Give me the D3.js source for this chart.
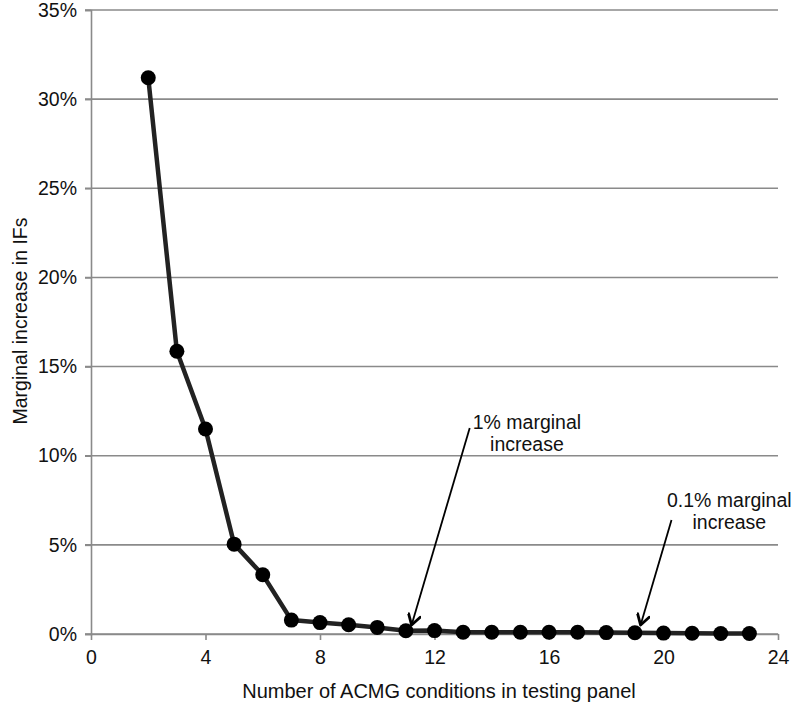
<!DOCTYPE html>
<html>
<head>
<meta charset="utf-8">
<script src="https://cdn.jsdelivr.net/npm/d3@7"></script>
<style>
  body { margin: 0; background: #fff; }
  text { font-family: "Liberation Sans", Arial, sans-serif; fill: #111; }
</style>
</head>
<body>
<div id="chart"></div>
<script>
// number of conditions in panel
var conditions = [2, 3, 4, 5, 6, 7, 8, 9, 10, 11, 12, 13, 14, 15, 16, 17, 18, 19, 20, 21, 22, 23];
// marginal increase in IFs (%)
var marginal = [31.2, 15.86, 11.5, 5.04, 3.32, 0.78, 0.64, 0.52, 0.37, 0.18, 0.19, 0.1, 0.1, 0.1, 0.1, 0.1, 0.08, 0.07, 0.05, 0.04, 0.03, 0.03];

var xTicks = [0, 4, 8, 12, 16, 20, 24];
var yTicks = [0, 5, 10, 15, 20, 25, 30, 35];

// annotations: label lines, label centre (first baseline), arrow start and arrow tip (data units)
var noteLines = [["1% marginal", "increase"], ["0.1% marginal", "increase"]];
var noteAt = [[15.23, 11.5], [22.3, 7.15]];
var arrowFrom = [[13.23, 11.56], [20.28, 6.4]];
var arrowTo = [[11.2, 0.5], [19.2, 0.5]];

var width = 793, height = 702;
var svg = d3.select("#chart").append("svg")
  .attr("width", width)
  .attr("height", height);

var x = d3.scaleLinear().domain([0, 24]).range([91, 778]);
var y = d3.scaleLinear().domain([0, 35]).range([634, 10]);

// gridlines
svg.append("g")
  .selectAll("line")
  .data(yTicks)
  .enter()
  .append("line")
  .attr("x1", 85)
  .attr("x2", x(24))
  .attr("y1", d => y(d))
  .attr("y2", d => y(d))
  .attr("stroke", "#8a8a8a")
  .attr("stroke-width", 1.6);

// y axis
var yAxis = svg.append("g")
  .attr("transform", `translate(${x(0)},0)`)
  .call(d3.axisLeft(y).tickValues(yTicks).tickFormat(d => d + "%").tickSize(6).tickPadding(8));
yAxis.select(".domain").attr("stroke", "#8a8a8a").attr("stroke-width", 1.6);
yAxis.selectAll(".tick line").attr("stroke", "#8a8a8a").attr("stroke-width", 1.6);
yAxis.selectAll("text").style("font-size", "19.5px").style("font-family", "Liberation Sans, Arial, sans-serif").attr("fill", "#111");

// x axis
var xAxis = svg.append("g")
  .attr("transform", `translate(0,${y(0)})`)
  .call(d3.axisBottom(x).tickValues(xTicks).tickSize(6).tickSizeOuter(0).tickPadding(10));
xAxis.select(".domain").attr("stroke", "#8a8a8a").attr("stroke-width", 1.6);
xAxis.selectAll(".tick line").attr("stroke", "#8a8a8a").attr("stroke-width", 1.6);
xAxis.selectAll("text").style("font-size", "19.5px").style("font-family", "Liberation Sans, Arial, sans-serif").attr("fill", "#111");

// axis titles
svg.append("text")
  .attr("x", 439)
  .attr("y", 698)
  .attr("text-anchor", "middle")
  .style("font-size", "20px")
  .text("Number of ACMG conditions in testing panel");

svg.append("text")
  .attr("transform", `translate(27,321) rotate(-90)`)
  .attr("text-anchor", "middle")
  .style("font-size", "19.5px")
  .text("Marginal increase in IFs");

// series
var points = conditions.map((c, i) => ({ c: c, v: marginal[i] }));

var line = d3.line()
  .x(d => x(d.c))
  .y(d => y(d.v));

svg.append("path")
  .datum(points)
  .attr("d", line)
  .attr("fill", "none")
  .attr("stroke", "#222")
  .attr("stroke-width", 4.5)
  .attr("stroke-linejoin", "round");

svg.append("g")
  .selectAll("circle")
  .data(points)
  .enter()
  .append("circle")
  .attr("cx", d => x(d.c))
  .attr("cy", d => y(d.v))
  .attr("r", 7.5)
  .attr("fill", "#000");

// arrows
svg.append("defs").append("marker")
  .attr("id", "head")
  .attr("viewBox", "-12 -7 14 14")
  .attr("refX", 0)
  .attr("refY", 0)
  .attr("markerWidth", 14)
  .attr("markerHeight", 14)
  .attr("markerUnits", "userSpaceOnUse")
  .attr("orient", "auto")
  .append("path")
  .attr("d", "M-10,-6 L0,0 L-10,6")
  .attr("fill", "none")
  .attr("stroke", "#000")
  .attr("stroke-width", 2.8)
  .attr("stroke-linecap", "round")
  .attr("stroke-linejoin", "round");

svg.append("g")
  .selectAll("line")
  .data(arrowFrom)
  .enter()
  .append("line")
  .attr("x1", d => x(d[0]))
  .attr("y1", d => y(d[1]))
  .attr("x2", (d, i) => x(arrowTo[i][0]))
  .attr("y2", (d, i) => y(arrowTo[i][1]))
  .attr("stroke", "#000")
  .attr("stroke-width", 1.8)
  .attr("marker-end", "url(#head)");

// annotation labels
noteLines.forEach(function(lines, i) {
  var t = svg.append("text")
    .attr("x", x(noteAt[i][0]))
    .attr("y", y(noteAt[i][1]))
    .attr("text-anchor", "middle")
    .style("font-size", "19.5px");
  lines.forEach(function(s, j) {
    t.append("tspan")
      .attr("x", x(noteAt[i][0]))
      .attr("dy", j === 0 ? 0 : 22)
      .text(s);
  });
});
</script>
</body>
</html>
